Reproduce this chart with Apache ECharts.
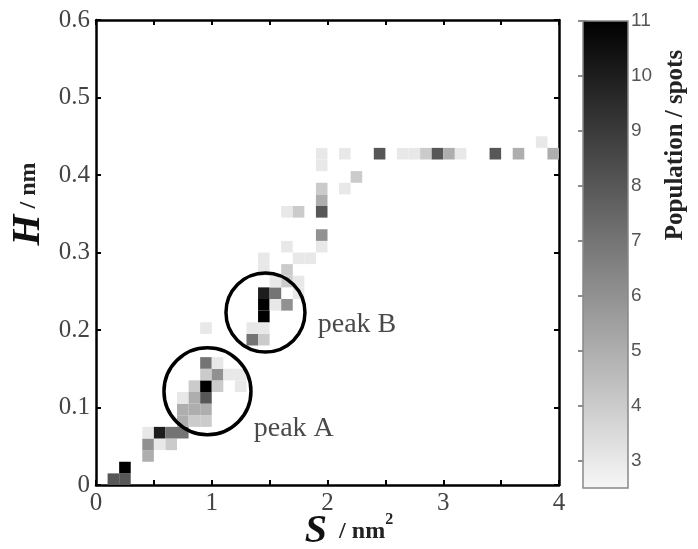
<!DOCTYPE html>
<html>
<head>
<meta charset="utf-8">
<script src="https://cdn.jsdelivr.net/npm/echarts@6/dist/echarts.min.js"></script>
<style>
  html, body { margin: 0; padding: 0; background: #fff; }
  #main { width: 698px; height: 549px; }
</style>
</head>
<body>
<div id="main"></div>
<script>
// histogram bins: lower edge of S (nm^2), lower edge of H (nm), population
var binS = 0.1;
var binH = 0.015;
var cellS = [0.1, 0.2, 0.2, 0.4, 0.4, 0.4, 0.5, 0.5, 0.6, 0.6,
             0.7, 0.7, 0.8, 0.9, 0.7, 0.8, 0.9, 0.7, 0.8, 0.9,
             0.8, 0.9, 1.0, 1.2, 0.9, 1.0, 1.1, 1.2, 0.9, 1.0,
             0.9, 1.3, 1.4, 1.3, 1.4, 1.4, 1.4, 1.4, 1.5, 1.5,
             1.6, 1.7, 1.5, 1.6, 1.7, 1.4, 1.6, 1.4, 1.7, 1.8,
             1.6, 1.9, 1.9, 1.6, 1.7, 1.9, 1.9, 1.9, 2.1, 2.2,
             1.9, 1.9, 2.1, 2.4, 2.6, 2.7, 2.8, 2.9, 3.0, 3.1,
             3.4, 3.6, 3.9, 3.8];
var cellH = [0.000, 0.000, 0.015, 0.030, 0.045, 0.060, 0.045, 0.060, 0.045, 0.060,
             0.060, 0.075, 0.075, 0.075, 0.090, 0.090, 0.090, 0.105, 0.105, 0.105,
             0.120, 0.120, 0.120, 0.120, 0.135, 0.135, 0.135, 0.135, 0.150, 0.150,
             0.195, 0.180, 0.180, 0.195, 0.195, 0.210, 0.225, 0.240, 0.225, 0.240,
             0.225, 0.240, 0.255, 0.255, 0.255, 0.270, 0.270, 0.285, 0.285, 0.285,
             0.300, 0.300, 0.315, 0.345, 0.345, 0.345, 0.360, 0.375, 0.375, 0.390,
             0.405, 0.420, 0.420, 0.420, 0.420, 0.420, 0.420, 0.420, 0.420, 0.420,
             0.420, 0.420, 0.420, 0.435];
var cellCount = [8, 8, 11, 5, 6, 3, 3, 10, 4, 7,
                 7, 5, 4, 4, 5, 5, 5, 3, 5, 8,
                 4, 11, 4, 3, 4, 6, 3, 3, 7, 3,
                 3, 7, 4, 3, 3, 11, 11, 10, 3, 7,
                 6, 3, 3, 4, 3, 3, 4, 3, 3, 3,
                 3, 3, 6, 3, 4, 8, 5, 4, 3, 4,
                 3, 3, 3, 8, 3, 3, 4, 8, 5, 3,
                 8, 5, 5, 3];

// circled peaks
var peakNames = ['peak A', 'peak B'];
var peakS = [0.963, 1.464];
var peakH = [0.121, 0.2226];

// colour bar
var colorMin = 2.5;
var colorMax = 11;
var colorTicks = [3, 4, 5, 6, 7, 8, 9, 10, 11];

var cells = [];
for (var i = 0; i < cellS.length; i++) {
    cells.push([cellS[i], cellH[i], cellCount[i]]);
}

var serif = '"Liberation Serif", "DejaVu Serif", serif';

var myChart = echarts.init(document.getElementById('main'));

function frameAxis(pos, min, max, interval, showLabel, fmt) {
    return {
        type: 'value', gridIndex: 0, position: pos,
        min: min, max: max, interval: interval,
        axisLine: { show: true, onZero: false, lineStyle: { color: '#000', width: 2.5 } },
        axisTick: { show: true, inside: true, length: 5, lineStyle: { color: '#000', width: 2 } },
        axisLabel: { show: showLabel, formatter: fmt, fontFamily: serif, fontSize: 25, color: '#444', margin: 6 },
        splitLine: { show: false }
    };
}

myChart.setOption({
    animation: false,
    backgroundColor: '#fff',
    grid: [
        { left: 96, top: 20, width: 463, height: 465 },
        { left: 583, top: 21, width: 45, height: 467 }
    ],
    xAxis: [
        frameAxis('bottom', 0, 4, 0.5, true, function (v) { return v % 1 === 0 ? String(v) : ''; }),
        frameAxis('top', 0, 4, 0.5, false),
        { type: 'value', gridIndex: 1, min: 0, max: 1, show: false }
    ],
    yAxis: [
        frameAxis('left', 0, 0.6, 0.1, true, function (v) { return v === 0 ? '0' : v.toFixed(1); }),
        frameAxis('right', 0, 0.6, 0.1, false),
        {
            type: 'value', gridIndex: 1, position: 'right', min: colorMin, max: colorMax,
            axisLine: { show: false },
            axisTick: { show: true, inside: true, length: 5, customValues: colorTicks, lineStyle: { color: '#666', width: 1.5 } },
            axisLabel: { customValues: colorTicks, fontFamily: '"Liberation Sans", Arial, sans-serif', fontSize: 19, color: '#555', margin: 3 },
            splitLine: { show: false }
        },
        {
            type: 'value', gridIndex: 1, position: 'left', min: colorMin, max: colorMax,
            axisLine: { show: false },
            axisTick: { show: true, inside: true, length: 4, customValues: colorTicks, lineStyle: { color: '#666', width: 1.5 } },
            axisLabel: { show: false },
            splitLine: { show: false }
        }
    ],
    visualMap: {
        show: false,
        type: 'continuous',
        seriesIndex: 0,
        dimension: 2,
        min: colorMin,
        max: colorMax,
        inRange: { color: ['#f7f7f7', '#000000'] }
    },
    series: [
        {
            // 2D histogram
            type: 'custom',
            xAxisIndex: 0, yAxisIndex: 0,
            silent: true,
            data: cells,
            renderItem: function (params, api) {
                var p0 = api.coord([api.value(0), api.value(1) + binH]);
                var p1 = api.coord([api.value(0) + binS, api.value(1)]);
                return {
                    type: 'rect',
                    shape: { x: p0[0], y: p0[1], width: p1[0] - p0[0], height: p1[1] - p0[1] },
                    style: { fill: api.visual('color') }
                };
            }
        },
        {
            // colour bar
            type: 'custom',
            xAxisIndex: 2, yAxisIndex: 2,
            silent: true,
            data: [[0, colorMin, colorMax]],
            renderItem: function (params, api) {
                var p0 = api.coord([0, api.value(2)]);
                var p1 = api.coord([1, api.value(1)]);
                return {
                    type: 'rect',
                    shape: { x: p0[0], y: p0[1], width: p1[0] - p0[0], height: p1[1] - p0[1] },
                    style: {
                        fill: new echarts.graphic.LinearGradient(0, 0, 0, 1, [
                            { offset: 0, color: '#000000' },
                            { offset: 1, color: '#f7f7f7' }
                        ]),
                        stroke: '#888', lineWidth: 1.5
                    }
                };
            }
        },
        {
            // circles round the peaks
            type: 'scatter',
            xAxisIndex: 0, yAxisIndex: 0,
            silent: true,
            z: 5,
            itemStyle: { color: 'rgba(0,0,0,0)', borderColor: '#000', borderWidth: 3.5, opacity: 1 },
            label: {
                show: true, position: 'right', formatter: '{b}',
                fontFamily: serif, fontSize: 28, color: '#4a4a4a'
            },
            data: [
                { name: peakNames[0], value: [peakS[0], peakH[0]], symbolSize: 87, label: { distance: 1, offset: [0, 37] } },
                { name: peakNames[1], value: [peakS[1], peakH[1]], symbolSize: 79, label: { distance: 11, offset: [0, 12] } }
            ]
        }
    ],
    graphic: [
        {
            type: 'text', x: 29, y: 204, rotation: Math.PI / 2,
            style: {
                text: '{h|H}{u| / nm}', align: 'center', verticalAlign: 'middle',
                rich: {
                    h: { fontFamily: serif, fontSize: 40, fontWeight: 'bold', fontStyle: 'italic', fill: '#111' },
                    u: { fontFamily: serif, fontSize: 24, fontWeight: 'bold', fill: '#222' }
                }
            }
        },
        {
            type: 'text', x: 349, y: 532,
            style: {
                text: '{s|S}{u|  / nm}{p|2}', align: 'center', verticalAlign: 'middle',
                rich: {
                    s: { fontFamily: serif, fontSize: 40, fontWeight: 'bold', fontStyle: 'italic', fill: '#111' },
                    u: { fontFamily: serif, fontSize: 24, fontWeight: 'bold', fill: '#222' },
                    p: { fontFamily: serif, fontSize: 16, fontWeight: 'bold', fill: '#222', verticalAlign: 'top' }
                }
            }
        },
        {
            type: 'text', x: 676, y: 145, rotation: Math.PI / 2,
            style: {
                text: 'Population / spots', align: 'center', verticalAlign: 'middle',
                fontFamily: serif, fontSize: 25, fontWeight: 'bold', fill: '#222'
            }
        }
    ]
});
</script>
</body>
</html>
